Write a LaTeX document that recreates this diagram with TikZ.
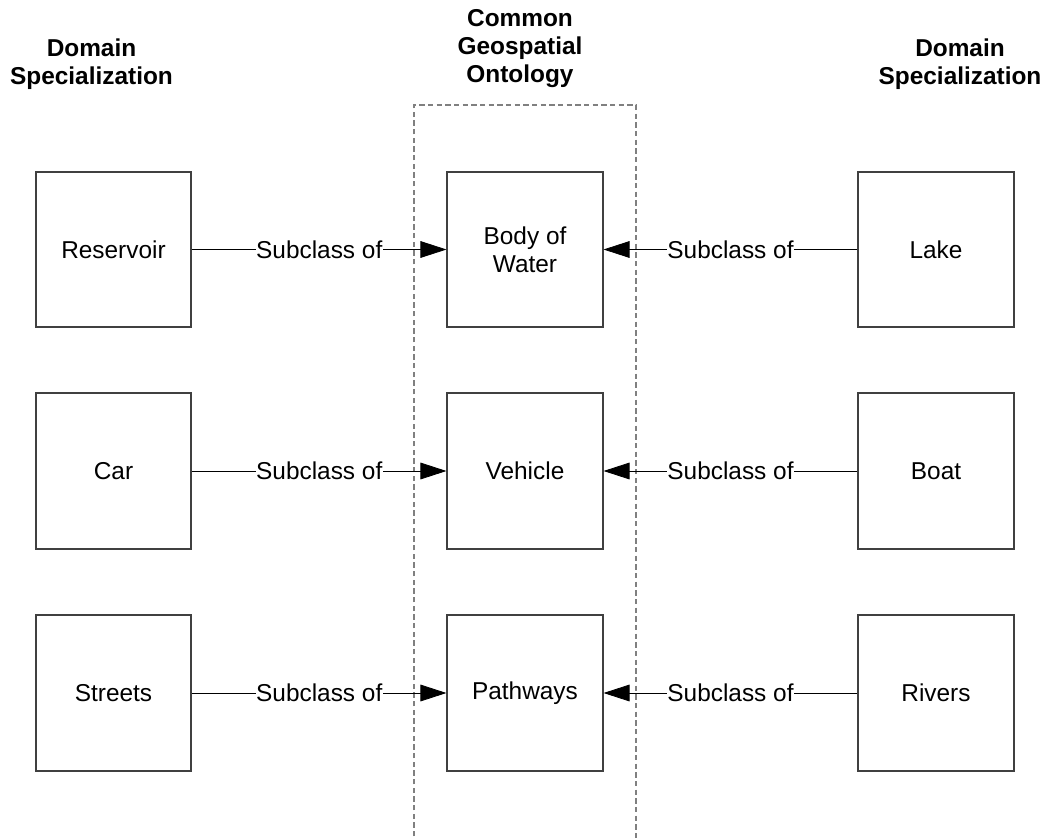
\documentclass[tikz,border=0pt]{standalone}
\usepackage{fontspec}
\setmainfont{Liberation Sans}
\usetikzlibrary{arrows.meta}
\definecolor{boxgray}{HTML}{404040}
\definecolor{dashgray}{HTML}{808080}
\tikzset{
  classbox/.style={draw=boxgray, line width=1.3pt, minimum width=116.5pt, minimum height=116.5pt, inner sep=2pt, align=center, font=\fontsize{18.3}{21}\selectfont},
  conn/.style={draw=black, line width=0.6pt, -{Triangle[length=19.5pt,width=12.5pt]}},
  lbl/.style={fill=white, inner sep=0.5pt, font=\fontsize{18.3}{21}\selectfont},
  title/.style={align=center, font=\bfseries\fontsize{18.3}{21}\selectfont},
  group/.style={draw=dashgray, line width=1.2pt, dash pattern=on 4pt off 2.5pt}
}
\begin{document}
\begin{tikzpicture}[x=0.75pt,y=-0.75pt]
\useasboundingbox (0,0) rectangle (1044,838);
% dashed group
\draw[group] (414,845) -- (414,105) -- (636,105) -- (636,845);
% titles
\node[title] (tl) at (91.5,64) {Domain\\Specialization};
\node[title] (tm) at (520,49) {Common\\Geospatial\\Ontology};
\node[title] (tr) at (960,64) {Domain\\Specialization};
% boxes
\node[classbox] (res) at (113.5,249.5) {Reservoir};
\node[classbox] (bow) at (525,249.5) {Body of\\Water};
\node[classbox] (lake) at (936,249.5) {Lake};
\node[classbox] (car) at (113.5,471) {Car};
\node[classbox] (veh) at (525,471) {Vehicle};
\node[classbox] (boat) at (936,471) {Boat};
\node[classbox] (str) at (113.5,693) {Streets};
\node[classbox] (path) at (525,693) {Pathways};
\node[classbox] (riv) at (936,693) {Rivers};
% connectors
\draw[conn] (res.east) -- node[lbl]{Subclass of} (bow.west);
\draw[conn] (lake.west) -- node[lbl]{Subclass of} (bow.east);
\draw[conn] (car.east) -- node[lbl]{Subclass of} (veh.west);
\draw[conn] (boat.west) -- node[lbl]{Subclass of} (veh.east);
\draw[conn] (str.east) -- node[lbl]{Subclass of} (path.west);
\draw[conn] (riv.west) -- node[lbl]{Subclass of} (path.east);
\end{tikzpicture}
\end{document}
